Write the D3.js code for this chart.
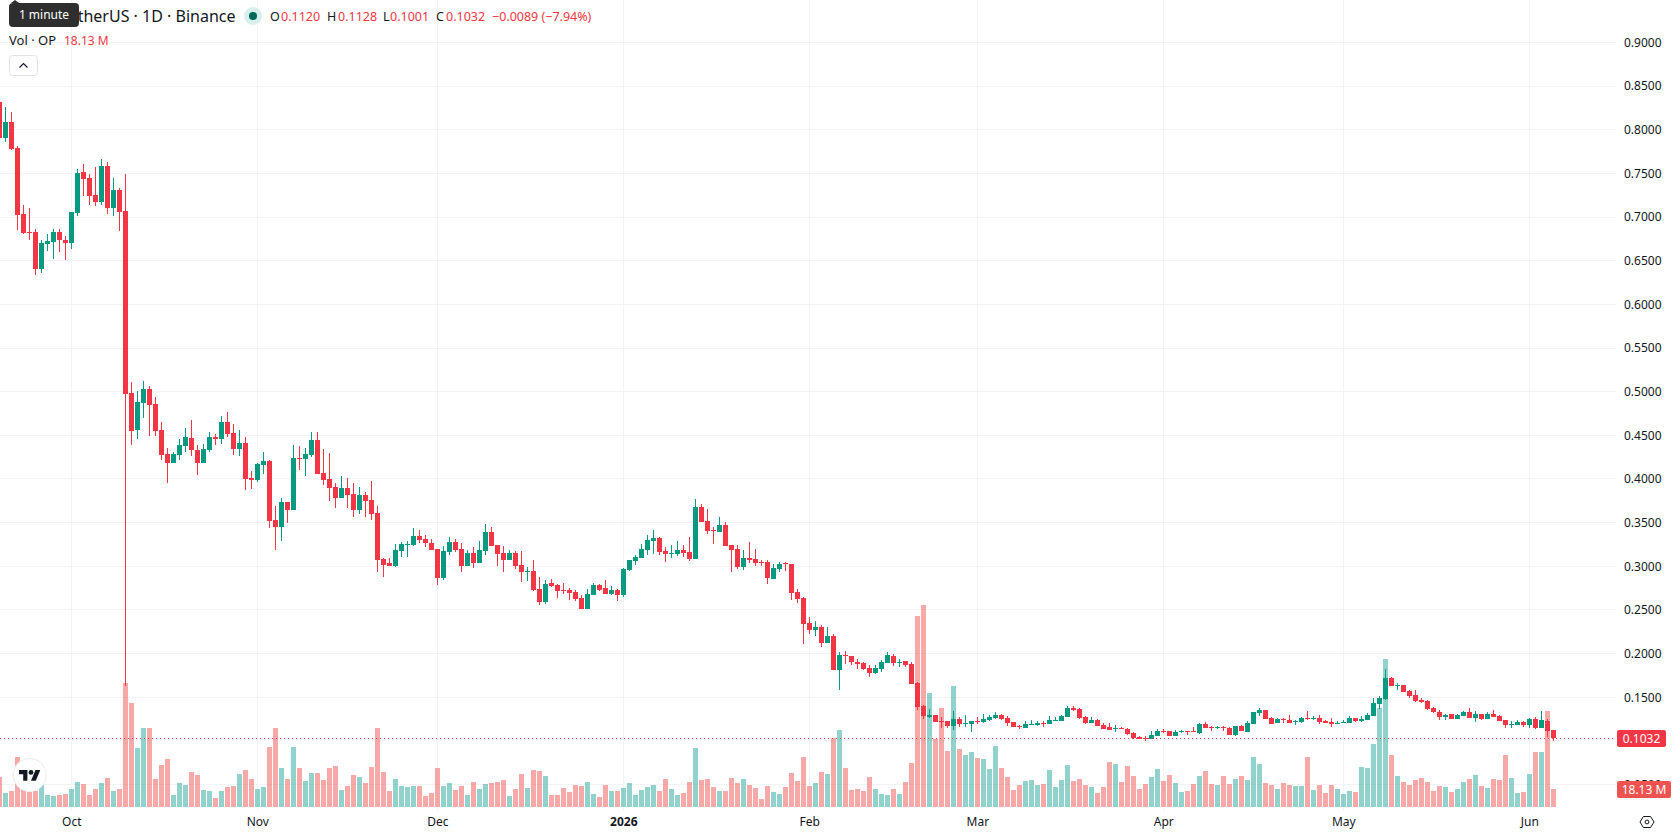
<!DOCTYPE html>
<html>
<head>
<meta charset="utf-8">
<title>OP / TetherUS</title>
<script src="https://cdn.jsdelivr.net/npm/d3@7/dist/d3.min.js"></script>
<style>
  html, body { margin: 0; padding: 0; background: #fff; overflow: hidden; }
  svg { display: block; }
  text { font-family: "Noto Sans", Roboto, sans-serif; fill: #131722; }
</style>
</head>
<body>
<svg id="chart" width="1678" height="835"></svg>
<script>
// Daily OP/USDT session data, first session 2025-09-19, one value per day.
const firstSession = "2025-09-19";

const opens = [
.8318,.7906,.8089,.7791,.7035,.6829,.6829,.6406,.6692,.6715,.6829,.6738,.6703,.7047,.7516,.7448,.7253,.7173,.7585,.7104,
.7310,.7070,.4985,.4561,.4871,.5031,.4859,.4561,.4286,.4183,.4275,.4378,.4470,.4332,.4183,.4332,.4481,.4458,.4653,.4527,
.4344,.4412,.4011,.3989,.4160,.4206,.3530,.3450,.3736,.3645,.4241,.4229,.4275,.4447,.4069,.4000,.3908,.3782,.3897,.3828,
.3645,.3817,.3759,.3610,.3083,.3038,.3003,.3175,.3244,.3244,.3347,.3313,.3267,.3198,.2866,.3164,.3278,.3198,.3003,.3152,
.3038,.3175,.3393,.3244,.3152,.3072,.3152,.3015,.2935,.2946,.2740,.2591,.2809,.2786,.2729,.2729,.2706,.2637,.2510,.2671,
.2786,.2752,.2683,.2729,.2671,.2958,.3061,.3095,.3187,.3290,.3324,.3175,.3141,.3141,.3187,.3164,.3083,.3679,.3519,.3416,
.3393,.3473,.3244,.3198,.2992,.3095,.3083,.3049,.3049,.2855,.2969,.3038,.3026,.2706,.2637,.2350,.2270,.2304,.2121,.2201,
.1812,.1984,.1972,.1904,.1892,.1835,.1778,.1823,.1892,.1972,.1892,.1915,.1881,.1663,.1400,.1274,.1297,.1228,.1228,.1171,
.1251,.1193,.1193,.1228,.1216,.1239,.1262,.1297,.1262,.1216,.1171,.1148,.1182,.1182,.1205,.1193,.1228,.1228,.1274,.1377,
.1365,.1274,.1205,.1239,.1182,.1159,.1136,.1148,.1136,.1090,.1044,.1033,.1021,.1056,.1113,.1113,.1056,.1102,.1113,.1113,
.1090,.1193,.1159,.1148,.1159,.1148,.1067,.1171,.1102,.1193,.1320,.1354,.1262,.1205,.1251,.1239,.1216,.1216,.1262,.1251,
.1262,.1228,.1216,.1193,.1205,.1205,.1262,.1228,.1239,.1285,.1423,.1480,.1721,.1629,.1640,.1572,.1525,.1468,.1457,.1377,
.1331,.1274,.1308,.1251,.1285,.1331,.1262,.1308,.1251,.1308,.1285,.1239,.1182,.1182,.1216,.1182,.1251,.1148,.1228,.1120];

const highs = [
.8387,.8261,.8203,.7814,.7139,.7104,.6864,.6738,.6806,.6864,.6864,.6784,.7058,.7551,.7608,.7493,.7574,.7665,.7631,.7448,
.7333,.7493,.5111,.5008,.5123,.5065,.4939,.4653,.4355,.4309,.4458,.4584,.4676,.4389,.4401,.4538,.4516,.4722,.4768,.4630,
.4561,.4481,.4092,.4183,.4309,.4218,.3691,.3782,.3736,.4389,.4378,.4355,.4538,.4538,.4344,.4298,.3954,.4034,.4011,.3954,
.3908,.3851,.3977,.3691,.3095,.3095,.3255,.3278,.3290,.3439,.3416,.3358,.3313,.3198,.3232,.3336,.3313,.3267,.3187,.3221,
.3290,.3485,.3450,.3244,.3232,.3187,.3175,.3175,.2992,.3072,.2877,.2843,.2855,.2797,.2809,.2752,.2729,.2671,.2740,.2809,
.2797,.2843,.2775,.2740,.2981,.3072,.3129,.3255,.3358,.3416,.3336,.3221,.3244,.3290,.3244,.3336,.3771,.3714,.3656,.3450,
.3565,.3507,.3244,.3244,.3187,.3278,.3198,.3072,.3072,.3026,.3049,.3049,.3026,.2740,.2648,.2419,.2373,.2327,.2304,.2224,
.2018,.2030,.1972,.1938,.1904,.1869,.1869,.1927,.2018,.1995,.1938,.1915,.1904,.1675,.1411,.1365,.1297,.1274,.1228,.1343,
.1274,.1297,.1228,.1274,.1308,.1297,.1331,.1308,.1285,.1216,.1182,.1228,.1239,.1228,.1228,.1285,.1274,.1297,.1400,.1400,
.1377,.1285,.1274,.1251,.1205,.1205,.1182,.1159,.1148,.1102,.1056,.1056,.1113,.1136,.1136,.1113,.1125,.1125,.1113,.1159,
.1205,.1216,.1171,.1171,.1171,.1159,.1171,.1182,.1228,.1331,.1377,.1354,.1274,.1262,.1262,.1297,.1239,.1274,.1343,.1285,
.1297,.1239,.1262,.1228,.1239,.1285,.1262,.1285,.1320,.1491,.1514,.1823,.1732,.1663,.1640,.1583,.1583,.1491,.1468,.1388,
.1354,.1308,.1308,.1308,.1343,.1377,.1343,.1308,.1331,.1354,.1297,.1239,.1228,.1239,.1228,.1262,.1274,.1343,.1251,.1128];

const lows = [
.7883,.7860,.7768,.6852,.6806,.6738,.6337,.6360,.6612,.6520,.6600,.6509,.6635,.7012,.7242,.7139,.7127,.7139,.7035,.7012,
.6841,.1629,.4389,.4458,.4699,.4492,.4492,.4218,.3954,.4183,.4218,.4309,.4263,.4046,.4183,.4309,.4389,.4401,.4481,.4275,
.4263,.3874,.3885,.3966,.4057,.3439,.3187,.3290,.3496,.3645,.4103,.4034,.4252,.4057,.3932,.3748,.3668,.3782,.3668,.3565,
.3599,.3565,.3530,.2935,.2877,.3003,.2992,.3106,.3106,.3232,.3267,.3221,.3187,.2786,.2843,.3129,.3164,.2935,.3003,.2981,
.3038,.3129,.3232,.3003,.2935,.3072,.2969,.2820,.2832,.2717,.2556,.2568,.2763,.2637,.2683,.2614,.2602,.2510,.2510,.2671,
.2717,.2683,.2671,.2602,.2648,.2946,.3015,.3095,.3129,.3141,.3129,.3049,.3095,.3118,.3106,.3061,.3083,.3507,.3370,.3255,
.3393,.3232,.2935,.2969,.2958,.3038,.3003,.3003,.2797,.2855,.2935,.2946,.2614,.2579,.2110,.2224,.2201,.2076,.2121,.1812,
.1583,.1881,.1869,.1823,.1812,.1732,.1766,.1789,.1892,.1858,.1846,.1846,.1652,.1354,.1251,.1262,.1216,.1148,.1148,.1125,
.1159,.1159,.1102,.1193,.1205,.1228,.1251,.1239,.1171,.1159,.1136,.1148,.1182,.1171,.1159,.1193,.1228,.1228,.1274,.1343,
.1251,.1193,.1205,.1171,.1136,.1125,.1102,.1136,.1067,.1021,.1021,.0999,.1021,.1056,.1090,.1056,.1056,.1090,.1067,.1102,
.1079,.1148,.1113,.1136,.1113,.1067,.1056,.1113,.1102,.1193,.1285,.1251,.1193,.1205,.1205,.1205,.1182,.1205,.1239,.1239,
.1193,.1205,.1159,.1193,.1205,.1205,.1216,.1216,.1239,.1285,.1365,.1468,.1629,.1583,.1560,.1491,.1446,.1434,.1354,.1320,
.1239,.1239,.1251,.1251,.1285,.1262,.1216,.1239,.1251,.1274,.1228,.1148,.1148,.1182,.1159,.1148,.1136,.1148,.1044,.1001];

const closes = [
.7906,.8089,.7780,.7024,.6818,.6818,.6406,.6703,.6726,.6829,.6738,.6703,.7058,.7505,.7436,.7242,.7173,.7585,.7104,.7310,
.7058,.4974,.4550,.4882,.5031,.4848,.4550,.4275,.4183,.4286,.4389,.4481,.4332,.4183,.4344,.4481,.4458,.4653,.4516,.4344,
.4412,.4000,.3989,.4172,.4206,.3519,.3450,.3736,.3645,.4241,.4229,.4286,.4447,.4057,.3989,.3897,.3782,.3897,.3817,.3645,
.3817,.3748,.3599,.3072,.3015,.3003,.3187,.3255,.3255,.3347,.3301,.3267,.3187,.2866,.3175,.3278,.3187,.3003,.3152,.3038,
.3187,.3393,.3232,.3141,.3072,.3152,.3003,.2935,.2946,.2729,.2591,.2797,.2775,.2717,.2717,.2694,.2625,.2510,.2683,.2786,
.2729,.2683,.2729,.2671,.2969,.3072,.3106,.3198,.3301,.3324,.3164,.3141,.3152,.3187,.3152,.3083,.3679,.3507,.3404,.3404,
.3473,.3232,.3187,.2992,.3095,.3072,.3038,.3038,.2866,.2981,.3026,.3026,.2694,.2625,.2339,.2270,.2304,.2121,.2201,.1812,
.1984,.1972,.1904,.1881,.1823,.1778,.1835,.1904,.1984,.1892,.1904,.1869,.1652,.1388,.1285,.1297,.1216,.1216,.1171,.1251,
.1193,.1205,.1228,.1216,.1251,.1274,.1297,.1251,.1205,.1159,.1159,.1193,.1193,.1205,.1193,.1239,.1239,.1285,.1377,.1354,
.1262,.1205,.1239,.1171,.1136,.1125,.1148,.1136,.1079,.1033,.1021,.1021,.1067,.1113,.1102,.1056,.1102,.1113,.1102,.1102,
.1193,.1148,.1148,.1159,.1148,.1067,.1171,.1113,.1205,.1331,.1354,.1251,.1193,.1251,.1239,.1205,.1228,.1262,.1251,.1262,
.1216,.1205,.1193,.1205,.1216,.1262,.1228,.1251,.1297,.1434,.1491,.1721,.1629,.1640,.1560,.1514,.1457,.1446,.1365,.1331,
.1274,.1297,.1251,.1297,.1331,.1262,.1308,.1251,.1308,.1274,.1228,.1182,.1193,.1216,.1182,.1251,.1148,.1239,.1113,.1032];

// Traded volume per session, in millions of OP.
const volumes = [
30.6,14.3,16.3,51.0,20.4,15.7,16.3,22.4,12.2,11.2,12.2,13.3,18.4,25.5,23.5,12.2,18.4,24.5,29.6,16.3,
18.4,126.5,106.1,60.2,80.6,80.6,28.6,42.8,49.0,12.2,24.5,22.4,35.7,32.6,17.3,16.3,9.2,16.3,20.4,21.4,
33.7,37.7,28.6,18.4,20.4,61.2,80.6,39.8,28.6,61.2,39.8,26.5,34.7,34.7,27.5,39.8,41.8,17.3,21.4,32.6,
30.6,24.5,40.8,80.6,35.7,16.3,28.6,21.4,20.4,21.4,21.4,11.2,14.3,39.8,21.4,24.5,17.3,21.4,12.2,25.5,
18.4,23.5,24.5,25.5,27.5,11.2,18.4,33.7,19.4,37.7,36.7,31.6,12.2,12.2,19.4,15.3,22.4,21.4,25.5,13.3,
10.2,22.4,16.3,16.3,19.4,24.5,12.2,17.3,20.4,22.4,16.3,28.6,18.4,12.2,14.3,25.5,60.2,27.5,28.6,20.4,
16.3,16.3,29.6,24.5,28.6,22.4,19.4,8.2,21.4,15.3,13.3,20.4,34.7,26.5,51.0,21.4,24.5,35.7,33.7,70.4,
78.5,39.8,17.3,18.4,16.3,30.6,18.4,13.3,12.2,18.4,13.3,25.5,44.9,194.8,206.0,116.3,69.4,101.0,57.1,123.4,
59.2,53.0,56.1,50.0,49.0,38.8,62.2,39.8,30.6,17.3,22.4,26.5,27.5,22.4,23.5,37.7,20.4,27.5,42.8,26.5,
28.6,22.4,20.4,14.3,20.4,45.9,43.9,25.5,41.8,31.6,18.4,23.5,30.6,38.8,26.5,32.6,24.5,15.3,16.3,23.5,
31.6,36.7,23.5,22.4,31.6,23.5,28.6,31.6,27.5,51.0,43.9,24.5,22.4,18.4,24.5,22.4,21.4,21.4,51.0,17.3,
22.4,14.3,22.4,18.4,13.3,16.3,15.3,40.8,39.8,64.3,101.0,151.0,53.0,31.6,25.5,22.4,27.5,29.6,25.5,16.3,
21.4,20.4,15.3,18.4,25.5,28.6,32.6,21.4,19.4,28.6,27.5,53.0,29.6,14.3,15.3,33.7,56.1,56.1,97.9,18.13];

const priceTicks = [0.90,0.85,0.80,0.75,0.70,0.65,0.60,0.55,0.50,0.45,0.40,0.35,0.30,0.25,0.20,0.15,0.10,0.05];
const timeTickDates = ["2025-10-01","2025-11-01","2025-12-01","2026-01-01","2026-02-01","2026-03-01","2026-04-01","2026-05-01","2026-06-01"];
const timeTickLabels = ["Oct","Nov","Dec","2026","Feb","Mar","Apr","May","Jun"];

const lastPriceLabel = "0.1032";
const lastVolumeLabel = "18.13 M";

const UP = "#089981", DOWN = "#F23645";
const VOL_UP = "rgba(38,166,154,0.5)", VOL_DOWN = "rgba(239,83,80,0.5)";
const GRID = "#f2f3f3";

const svg = d3.select("#chart");
const paneRight = 1616, paneBottom = 811;

const start = d3.isoParse(firstSession + "T00:00:00Z");
const sessions = opens.map((_, i) => d3.utcDay.offset(start, i));

const x = d3.scaleUtc()
  .domain([new Date(Date.UTC(2025, 9, 1)), new Date(Date.UTC(2026, 5, 1))])
  .range([71.3, 1529.3]);
const y = d3.scaleLinear().domain([0.9, 0.05]).range([42.5, 784.5]);
const yVol = d3.scaleLinear().domain([0, 206]).range([807, 605]);

const tickDates = timeTickDates.map(d => d3.isoParse(d + "T00:00:00Z"));
const snap = v => Math.floor(v);

// Grid
const grid = svg.append("g").attr("shape-rendering", "crispEdges").attr("stroke", GRID);
grid.selectAll("line.h").data(priceTicks).join("line").attr("class", "h")
  .attr("x1", 0).attr("x2", paneRight)
  .attr("y1", d => snap(y(d)) + 0.5).attr("y2", d => snap(y(d)) + 0.5);
grid.selectAll("line.v").data(tickDates).join("line").attr("class", "v")
  .attr("y1", 0).attr("y2", paneBottom)
  .attr("x1", d => snap(x(d)) + 0.5).attr("x2", d => snap(x(d)) + 0.5);

const bars = sessions.map((date, i) => ({
  date, open: opens[i], high: highs[i], low: lows[i], close: closes[i],
  volume: volumes[i], up: closes[i] >= opens[i]
}));

const plot = svg.append("g").attr("shape-rendering", "crispEdges");

// Volume columns sit behind the candles
plot.append("g").selectAll("rect").data(bars).join("rect")
  .attr("x", d => snap(x(d.date)) - 2)
  .attr("width", 5)
  .attr("y", d => Math.round(yVol(d.volume)))
  .attr("height", d => 807 - Math.round(yVol(d.volume)))
  .attr("fill", d => d.up ? VOL_UP : VOL_DOWN);

// Candles: one-pixel wick, five-pixel body
const candles = plot.append("g").selectAll("g").data(bars).join("g")
  .attr("fill", d => d.up ? UP : DOWN);
candles.append("rect")
  .attr("x", d => snap(x(d.date)))
  .attr("width", 1)
  .attr("y", d => Math.round(y(d.high)))
  .attr("height", d => Math.max(1, Math.round(y(d.low)) - Math.round(y(d.high))));
candles.append("rect")
  .attr("x", d => snap(x(d.date)) - 2)
  .attr("width", 5)
  .attr("y", d => Math.round(y(Math.max(d.open, d.close))))
  .attr("height", d => Math.max(1, Math.round(y(Math.min(d.open, d.close))) - Math.round(y(Math.max(d.open, d.close)))));

// Last price marker line
const lastY = snap(y(closes[closes.length - 1])) + 0.5;
svg.append("line")
  .attr("x1", 0).attr("x2", paneRight).attr("y1", lastY).attr("y2", lastY)
  .attr("stroke", DOWN).attr("stroke-width", 1).attr("stroke-dasharray", "1 3")
  .attr("shape-rendering", "crispEdges");

// Price axis
const priceAxis = d3.axisRight(y).tickValues(priceTicks).tickSize(0).tickPadding(0)
  .tickFormat(d3.format(".4f"));
const gPrice = svg.append("g").attr("transform", "translate(1624,0)").call(priceAxis);
gPrice.select(".domain").remove();
gPrice.selectAll("text").attr("font-size", 12).attr("font-family", null).attr("x", 0);

// Time axis
const timeAxis = d3.axisBottom(x).tickValues(tickDates).tickSize(0).tickPadding(0)
  .tickFormat((d, i) => timeTickLabels[i]);
const gTime = svg.append("g").attr("transform", "translate(0,815)").call(timeAxis);
gTime.select(".domain").remove();
gTime.selectAll("text").attr("font-size", 12).attr("font-family", null).attr("y", 0).attr("dy", "0.95em")
  .attr("font-weight", (d, i) => timeTickLabels[i] === "2026" ? 700 : 400);

// Scale tags for the last price and last volume
function tag(x0, y0, w, h, fill, label) {
  const g = svg.append("g");
  g.append("rect").attr("x", x0).attr("y", y0).attr("width", w).attr("height", h).attr("rx", 2).attr("fill", fill);
  g.append("text").attr("x", x0 + w / 2).attr("y", y0 + h / 2).attr("dy", "0.35em")
    .attr("text-anchor", "middle").attr("font-size", 12).style("fill", "#fff").text(label);
}
tag(1617, 781, 54, 17, "#ef5350", lastVolumeLabel);
tag(1617, 730, 49, 17, DOWN, lastPriceLabel);

// Settings glyph in the scale corner
const gear = svg.append("g").attr("transform", "translate(1647,822)").attr("fill", "none").attr("stroke", "#131722").attr("stroke-width", 1);
gear.append("path").attr("d", "M-7 0L-3.6 -5.5H3.6L7 0L3.6 5.5H-3.6Z");
gear.append("circle").attr("r", 1.9);

// Watermark badge
const badge = svg.append("g");
badge.append("circle").attr("cx", 29.7).attr("cy", 775).attr("r", 16.5).attr("fill", "#fff").attr("stroke", "#ececec").attr("stroke-width", 1);
const mark = badge.append("g").attr("transform", "translate(19,767.6) scale(0.6)").attr("fill", "#131722");
mark.append("path").attr("d", "M14 22H7V11H0V4h14v18zM28 22h-8l7.5-18h8L28 22z");
mark.append("circle").attr("cx", 20).attr("cy", 8).attr("r", 4);

// Legend rows
const legend = svg.append("g").attr("font-size", 13);
legend.append("text").attr("x", 235.5).attr("y", 22).attr("text-anchor", "end").attr("font-size", 16)
  .text("OP / TetherUS · 1D · Binance");
legend.append("circle").attr("cx", 253).attr("cy", 16).attr("r", 9).attr("fill", "#d9efec");
legend.append("circle").attr("cx", 253).attr("cy", 16).attr("r", 4).attr("fill", "#00695c");

const ohlcLabels = [
  { key: "O", value: "0.1120", xKey: 270, xValue: 281 },
  { key: "H", value: "0.1128", xKey: 327, xValue: 338 },
  { key: "L", value: "0.1001", xKey: 383, xValue: 390 },
  { key: "C", value: "0.1032", xKey: 436, xValue: 446 }
];
ohlcLabels.forEach(d => {
  legend.append("text").attr("x", d.xKey).attr("y", 20.5).attr("font-size", 12.5).text(d.key);
  legend.append("text").attr("x", d.xValue).attr("y", 20.5).attr("font-size", 12.5).style("fill", DOWN).text(d.value);
});
legend.append("text").attr("x", 492).attr("y", 20.5).attr("font-size", 12.5).style("fill", DOWN).text("−0.0089 (−7.94%)");
legend.append("text").attr("x", 9).attr("y", 45).attr("font-size", 13).text("Vol · OP");
legend.append("text").attr("x", 64).attr("y", 45).attr("font-size", 12).style("fill", DOWN).text("18.13 M");

// Collapse button under the legend
legend.append("rect").attr("x", 9.5).attr("y", 55.5).attr("width", 28).attr("height", 20).attr("rx", 3)
  .attr("fill", "#fff").attr("stroke", "#e0e3eb");
legend.append("path").attr("d", "M19.5 67.5L23.5 63.5L27.5 67.5").attr("fill", "none").attr("stroke", "#131722").attr("stroke-width", 1.2);

// Hover hint over the top-left corner of the legend
const hint = svg.append("g");
hint.append("path").attr("d", "M11 3L15 0L19 3Z").attr("fill", "#2e2e2e");
hint.append("rect").attr("x", 9).attr("y", 3).attr("width", 70).attr("height", 24).attr("rx", 4).attr("fill", "#2e2e2e");
hint.append("text").attr("x", 44).attr("y", 15).attr("dy", "0.35em").attr("text-anchor", "middle")
  .attr("font-size", 12).style("fill", "#fff").text("1 minute");
</script>
</body>
</html>
